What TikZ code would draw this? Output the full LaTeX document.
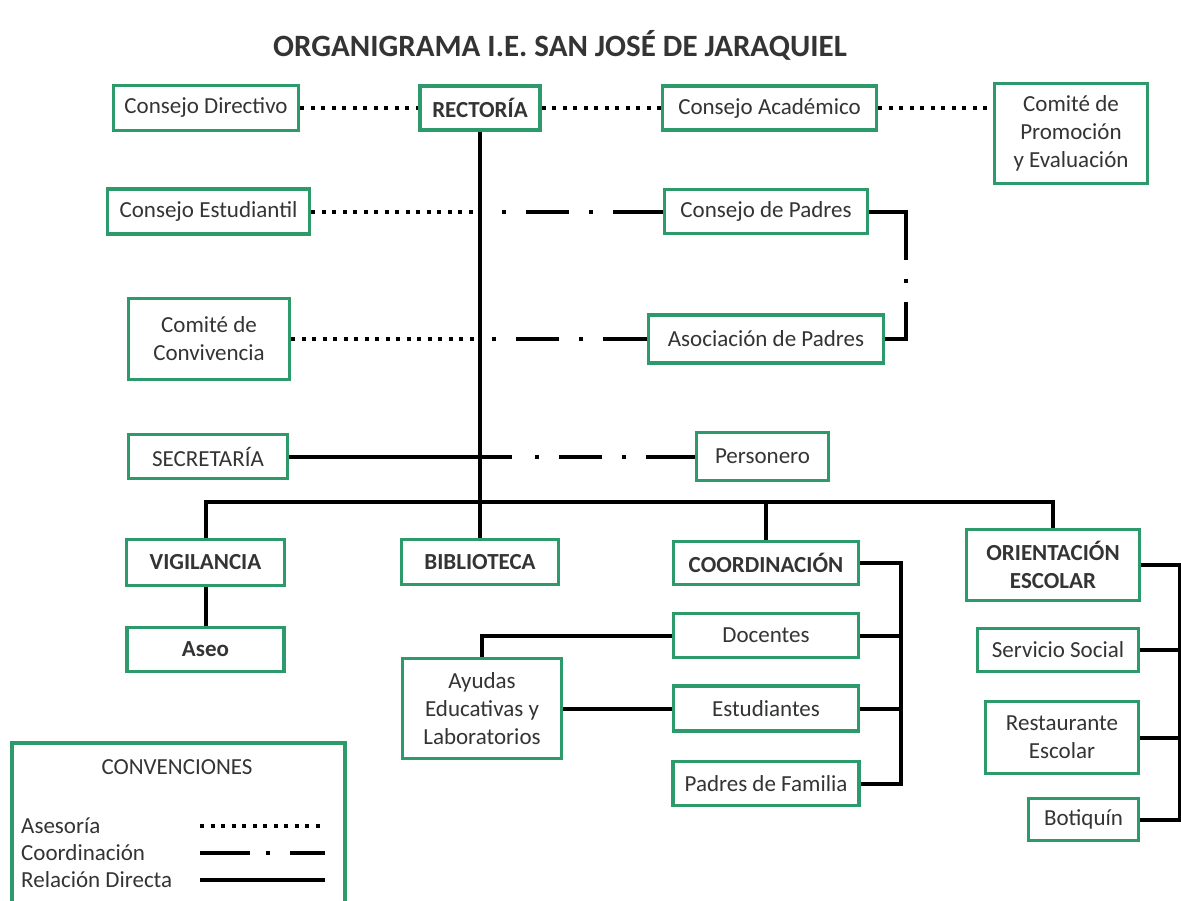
\documentclass[tikz,border=0pt]{standalone}
\usepackage{fontspec}
\setmainfont{Carlito}
\definecolor{boxgreen}{RGB}{44,154,106}
\definecolor{txtgray}{RGB}{52,52,52}
\begin{document}
\begin{tikzpicture}[x=1pt,y=-1pt,
  box/.style={draw=boxgreen,line width=3.2pt,fill=white,text=txtgray,align=center,inner sep=2pt,font=\fontsize{23}{28}\selectfont},
  legtext/.style={text=txtgray,inner sep=2pt,font=\fontsize{23}{27}\selectfont},
  asesoria/.style={line width=4pt,dash pattern=on 4pt off 6.5pt},
  directa/.style={line width=4pt},
  coordline/.style={line width=4pt,dash pattern=on 0pt off #1 on 4pt off 20pt on 43pt off 20pt on 4pt off 20pt on 400pt}]
\clip (0,0) rectangle (1181,900);
\fill[white] (0,0) rectangle (1181,900);
\node (title) at (560,45) [text=txtgray,font=\fontsize{31}{36}\selectfont\bfseries] {ORGANIGRAMA I.E. SAN JOSÉ DE JARAQUIEL};
\node (cdir) at (206,108) [box,minimum width=185pt,minimum height=45pt] {Consejo Directivo};
\node (rect) at (480,108) [box,minimum width=120pt,minimum height=44pt] {\textbf{RECTORÍA}};
\node (cacad) at (769.5,108) [box,minimum width=214pt,minimum height=44pt] {Consejo Académico};
\node (cprom) at (1071,133.5) [box,minimum width=153pt,minimum height=100pt] {Comité de\\Promoción\\y Evaluación};
\node (cest) at (208.5,211.5) [box,minimum width=202pt,minimum height=45pt] {Consejo Estudiantil};
\node (cpad) at (766,211.5) [box,minimum width=203pt,minimum height=44pt] {Consejo de Padres};
\node (cconv) at (209,339) [box,minimum width=161pt,minimum height=81pt] {Comité de\\Convivencia};
\node (asoc) at (766,339) [box,minimum width=235pt,minimum height=48pt] {Asociación de Padres};
\node (secr) at (208,456.5) [box,minimum width=159pt,minimum height=44pt] {SECRETARÍA};
\node (pers) at (762.5,456.5) [box,minimum width=132pt,minimum height=48pt] {Personero};
\node (vig) at (205.5,562.5) [box,minimum width=158pt,minimum height=46pt] {\textbf{VIGILANCIA}};
\node (bib) at (480,562) [box,minimum width=157pt,minimum height=45pt] {\textbf{BIBLIOTECA}};
\node (coord) at (766,563) [box,minimum width=185pt,minimum height=43pt] {\textbf{COORDINACIÓN}};
\node (orient) at (1053,565) [box,minimum width=173pt,minimum height=71pt] {\textbf{ORIENTACIÓN}\\\textbf{ESCOLAR}};
\node (aseo) at (205.5,649.5) [box,minimum width=157pt,minimum height=44pt] {\textbf{Aseo}};
\node (doc) at (766,635.5) [box,minimum width=185pt,minimum height=44pt] {Docentes};
\node (ayud) at (482,708.5) [box,minimum width=159pt,minimum height=100pt] {Ayudas\\Educativas y\\Laboratorios};
\node (est) at (766,708.5) [box,minimum width=185pt,minimum height=45pt] {Estudiantes};
\node (padfam) at (766,783.5) [box,minimum width=186pt,minimum height=44pt] {Padres de Familia};
\node (serv) at (1058,650) [box,minimum width=161pt,minimum height=43pt] {Servicio Social};
\node (rest) at (1062,737.5) [box,minimum width=153pt,minimum height=72pt] {Restaurante\\Escolar};
\node (boti) at (1083.5,819.5) [box,minimum width=110pt,minimum height=42pt] {Botiquín};
\draw[asesoria] (cdir.east) -- (rect.west);
\draw[asesoria] (rect.east) -- (cacad.west);
\draw[asesoria] (cacad.east) -- (cacad.east -| cprom.west);
\draw[directa] (rect.south) -- (bib.north);
\coordinate (m1) at (cest.east -| rect.south);
\coordinate (m2) at (cconv.east -| rect.south);
\coordinate (m3) at (512,456.5);
\draw[asesoria] (cest.east) -- (m1);
\draw[coordline=22pt] (m1) -- (cpad.west);
\draw[asesoria] (cconv.east) -- (m2);
\draw[coordline=12pt] (m2) -- (asoc.west);
\draw[directa] (secr.east) -- (m3);
\draw[coordline=23pt] (m3) -- (pers.west);
\coordinate (xb1) at (906,0);
\draw[line width=4pt,dash pattern=on 85pt off 19pt on 4pt off 19pt on 200pt] (cpad.east) -- (cpad.east -| xb1) |- (asoc.east);
\coordinate (bus) at (0,502);
\draw[directa] (vig.north) |- (orient.north |- bus) -- (orient.north);
\draw[directa] (coord.north) -- (coord.north |- bus);
\draw[directa] (vig.south) -- (aseo.north);
\coordinate (xb2) at (901,0);
\draw[directa] (coord.east) -- (coord.east -| xb2) |- (padfam.east);
\draw[directa] (doc.east) -- (doc.east -| xb2);
\draw[directa] (est.east) -- (est.east -| xb2);
\draw[directa] (doc.west) -| (ayud.north);
\draw[directa] (ayud.east) -- (est.west);
\coordinate (xb3) at (1180,0);
\draw[directa] (orient.east) -- (orient.east -| xb3) |- (boti.east);
\draw[directa] (serv.east) -- (serv.east -| xb3);
\draw[directa] (rest.east) -- (rest.east -| xb3);
\draw[draw=boxgreen,line width=3.2pt,fill=white] (12,743) rectangle (345,915);
\node (conv) at (177,767) [legtext] {CONVENCIONES};
\node (lgase) at (19,826) [legtext,anchor=west] {Asesoría};
\node (lgcoo) at (19,853) [legtext,anchor=west] {Coordinación};
\node (lgrel) at (19,880) [legtext,anchor=west] {Relación Directa};
\coordinate (la1) at (200,826);
\coordinate (la2) at (325,826);
\coordinate (lc1) at (200,853);
\coordinate (lc2) at (325,853);
\coordinate (lr1) at (200,880);
\coordinate (lr2) at (325,880);
\draw[asesoria] (la1) -- (la2);
\draw[line width=4pt,dash pattern=on 50pt off 16pt on 4pt off 20pt on 100pt] (lc1) -- (lc2);
\draw[directa] (lr1) -- (lr2);
\end{tikzpicture}
\end{document}
